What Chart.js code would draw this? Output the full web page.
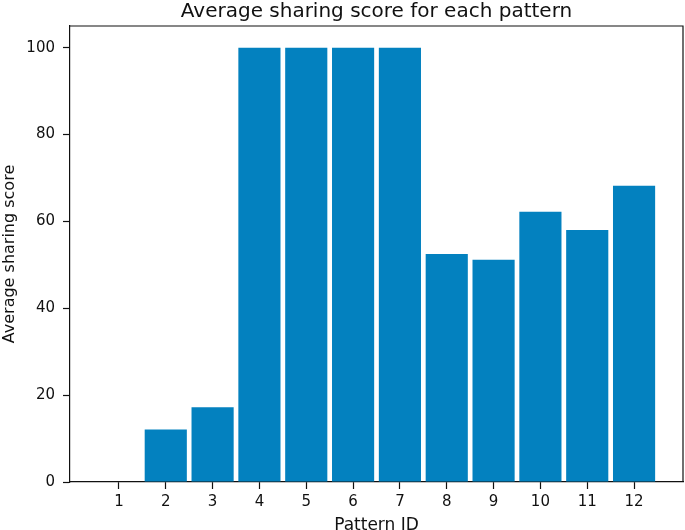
<!DOCTYPE html>
<html>
<head>
<meta charset="utf-8">
<script src="https://cdn.jsdelivr.net/npm/chart.js@4"></script>
<style>
    html, body { margin: 0; padding: 0; background: #fff; overflow: hidden; }
    #wrap { width: 685px; height: 530px; }
</style>
</head>
<body>
<div id="wrap"><canvas id="score-chart"></canvas></div>
<script>
const patternIds = [1, 2, 3, 4, 5, 6, 7, 8, 9, 10, 11, 12];
const sharingScores = [0, 12.1, 17.2, 100, 100, 100, 100, 52.5, 51.2, 62.2, 58.0, 68.2];
const yTicks = [0, 20, 40, 60, 80, 100];
const chartTitle = "Average sharing score for each pattern";

const BAR_COLOR = "#0381bf";
const FONT = "'DejaVu Sans', sans-serif";

// top/right spines and an axes-centred title, matplotlib style
const frame = {
    id: "frame",
    afterDraw(chart) {
        const { ctx, chartArea: a } = chart;
        ctx.save();
        ctx.strokeStyle = "#111";
        ctx.lineWidth = 1.2;
        ctx.beginPath();
        ctx.moveTo(a.left, a.top);
        ctx.lineTo(a.right, a.top);
        ctx.lineTo(a.right, a.bottom);
        ctx.stroke();
        ctx.fillStyle = "#111";
        ctx.font = "20px " + FONT;
        ctx.textAlign = "center";
        ctx.textBaseline = "alphabetic";
        ctx.fillText(chartTitle, (a.left + a.right) / 2, 17);
        ctx.restore();
    },
};

new Chart(document.getElementById("score-chart").getContext("2d"), {
    type: "bar",
    data: {
        datasets: [
            {
                label: "Average sharing score",
                data: patternIds.map((id, i) => ({ x: id, y: sharingScores[i] })),
                backgroundColor: BAR_COLOR,
                borderWidth: 0,
                barPercentage: 0.9,
                categoryPercentage: 1,
            },
        ],
    },
    options: {
        responsive: true,
        maintainAspectRatio: false,
        animation: false,
        layout: { padding: { left: 0, right: 2, top: 26, bottom: 0 } },
        plugins: {
            legend: { display: false },
            tooltip: { enabled: false },
            title: { display: false },
        },
        scales: {
            x: {
                type: "linear",
                offset: false,
                min: -0.045,
                max: 13.045,
                afterBuildTicks: (s) => { s.ticks = patternIds.map((v) => ({ value: v })); },
                afterFit: (s) => { s.height = 48; },
                grid: { offset: false, drawOnChartArea: false, tickLength: 7, color: "#111", tickWidth: 1.2 },
                border: { color: "#111", width: 1.2 },
                ticks: { color: "#111", padding: 4, maxRotation: 0, font: { family: FONT, size: 15 } },
                title: {
                    display: true,
                    text: "Pattern ID",
                    color: "#111",
                    font: { family: FONT, size: 17 },
                    padding: { top: 0, bottom: -5.7 },
                },
            },
            y: {
                min: 0,
                max: 105,
                afterBuildTicks: (s) => { s.ticks = yTicks.map((v) => ({ value: v })); },
                afterFit: (s) => { s.width = 70; },
                grid: { drawOnChartArea: false, tickLength: 7, color: "#111", tickWidth: 1.2 },
                border: { color: "#111", width: 1.2 },
                ticks: { color: "#111", padding: 8, font: { family: FONT, size: 15 } },
                title: {
                    display: true,
                    text: "Average sharing score",
                    color: "#111",
                    font: { family: FONT, size: 16 },
                    padding: { top: 0, bottom: 0 },
                },
            },
        },
    },
    plugins: [frame],
});
</script>
</body>
</html>
